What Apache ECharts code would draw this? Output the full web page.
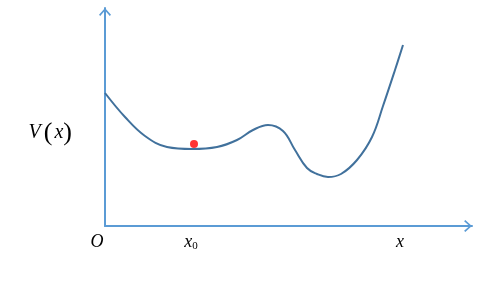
<!DOCTYPE html>
<html>
<head>
<meta charset="utf-8">
<script src="https://cdn.jsdelivr.net/npm/echarts@6/dist/echarts.min.js"></script>
<style>html,body{margin:0;padding:0;background:#fff;}#c{width:498px;height:283px;}</style>
</head>
<body>
<div id="c"></div>
<script>
// Potential curve V(x) (arbitrary units)
const curveX = [0, 20, 40, 62, 87, 112, 132, 148, 163, 178, 190, 202, 212, 223, 236, 252, 267, 278, 290, 298];
const curveY = [133, 109, 90, 79, 77, 79, 86, 96, 101, 95, 76, 58, 52, 49, 52, 66, 89, 120, 156, 181];
// Ball position
const dotX = [89];
const dotY = [82];
// Axis labels
const tickValues = [0, 86, 295];
const tickLabels = ['{o|O}', '{i|x}{s|0}', '{i|x}'];
const yName = '{v|V}{p|(}{x|x}{p|)}';

const arrowPath = 'path://M10,0 L20,11 L18,13 L10,4 L2,13 L0,11 Z';
const axisColor = '#5B9BD5';
const serif = '"Liberation Serif", "DejaVu Serif", serif';

const chart = echarts.init(document.getElementById('c'), null, {renderer: 'canvas'});
chart.setOption({
  animation: false,
  backgroundColor: '#ffffff',
  grid: {left: 105, top: 8, width: 367, height: 218},
  xAxis: {
    type: 'value', min: 0, max: 367,
    splitLine: {show: false},
    axisTick: {show: false},
    axisLine: {
      lineStyle: {color: axisColor, width: 2},
      symbol: ['none', arrowPath], symbolSize: [12, 8], symbolOffset: [0, -4]
    },
    axisLabel: {
      customValues: tickValues,
      margin: 6,
      formatter: function (v) { return tickLabels[tickValues.indexOf(v)] || ''; },
      rich: {
        o: {fontFamily: serif, fontStyle: 'italic', fontSize: 18, color: '#000', padding: [0, 16, 0, 0], lineHeight: 20},
        i: {fontFamily: serif, fontStyle: 'italic', fontSize: 18, color: '#000', lineHeight: 20},
        s: {fontFamily: serif, fontSize: 11, color: '#000', verticalAlign: 'bottom', lineHeight: 20}
      }
    }
  },
  yAxis: {
    type: 'value', min: 0, max: 218,
    splitLine: {show: false},
    axisTick: {show: false},
    axisLabel: {show: false},
    axisLine: {
      lineStyle: {color: axisColor, width: 2},
      symbol: ['none', arrowPath], symbolSize: [12, 8], symbolOffset: [0, -4]
    },
    name: yName,
    nameLocation: 'middle',
    nameRotate: 0,
    nameGap: 33,
    nameTextStyle: {
      padding: [32, 0, 0, 0],
      rich: {
        v: {fontFamily: serif, fontStyle: 'italic', fontSize: 20, color: '#000', padding: [0, 3, 0, 0]},
        x: {fontFamily: serif, fontStyle: 'italic', fontSize: 20, color: '#000', padding: [0, 0, 0, 2]},
        p: {fontFamily: serif, fontSize: 26, color: '#000'}
      }
    }
  },
  series: [
    {
      type: 'line',
      data: curveX.map((x, i) => [x, curveY[i]]),
      smooth: 0.4,
      showSymbol: false,
      lineStyle: {color: '#41719C', width: 2}
    },
    {
      type: 'scatter',
      data: dotX.map((x, i) => [x, dotY[i]]),
      symbolSize: 8,
      itemStyle: {color: '#FF0000'}
    }
  ]
});
</script>
</body>
</html>
